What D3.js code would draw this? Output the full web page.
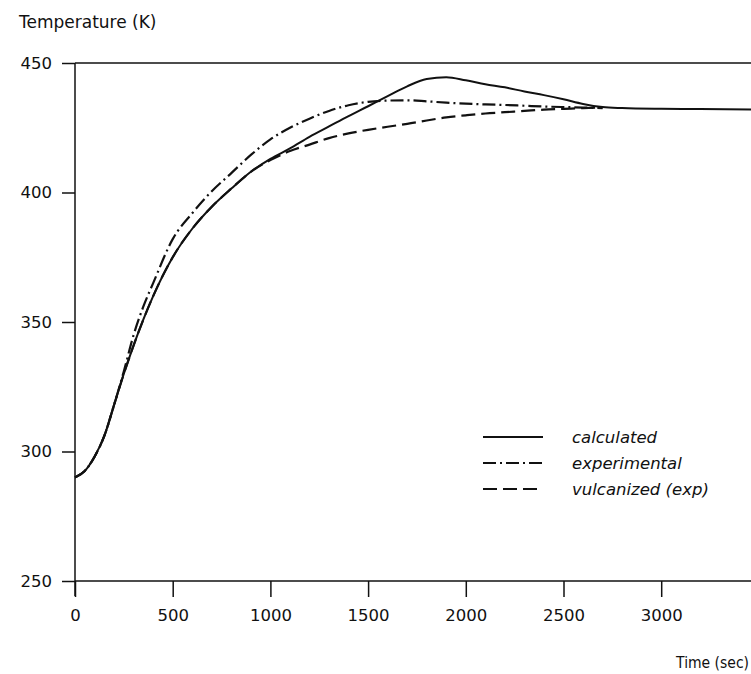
<!DOCTYPE html>
<html>
<head>
<meta charset="utf-8">
<script src="https://cdn.jsdelivr.net/npm/d3@7"></script>
<style>
  body { margin: 0; background: #fff; }
  text { font-family: "DejaVu Sans", sans-serif; fill: #111; }
</style>
</head>
<body>
<div id="chart"></div>
<script>
var svgWidth = 751;
var svgHeight = 674;

// Data
var times = [0, 50, 100, 150, 200, 250, 300, 350, 400, 500, 600, 700, 800, 900, 1000,
  1100, 1200, 1300, 1400, 1500, 1600, 1700, 1800, 1900, 2000, 2100, 2200, 2300, 2400,
  2500, 2600, 2700, 2800, 3000, 3200, 3500];

var calculated = [290, 292.5, 298, 306, 318, 330, 341, 351, 360, 375, 386, 394.5, 401.5, 408, 413,
  417, 421.5, 425.5, 429.5, 433.3, 437.2, 441, 443.8, 444.5, 443.3, 441.8, 440.6, 439, 437.6,
  436, 434.2, 433, 432.6, 432.3, 432.2, 432];

var experimental = [290, 292.5, 298, 306, 318, 331, 345, 356, 365, 382, 392, 400.5, 407.5, 414.5, 420.5,
  425, 428.5, 431.5, 433.7, 435, 435.5, 435.6, 435.2, 434.7, 434.3, 434, 433.8, 433.5, 433.2,
  433, 432.8, 432.6, null, null, null, null];

var vulcanized = [290, 292.5, 298, 306, 318, 330, 341, 351, 360, 375, 386, 394.5, 401.5, 408, 412.5,
  416, 418.5, 421, 422.8, 424.2, 425.4, 426.5, 427.8, 429, 429.8, 430.5, 431, 431.5, 432,
  432.3, 432.6, 432.8, null, null, null, null];

var xTicks = [0, 500, 1000, 1500, 2000, 2500, 3000];
var xTickLabels = ["0", "500", "1000", "1500", "2000", "2500", "3000"];
var yTicks = [250, 300, 350, 400, 450];

var seriesNames = ["calculated", "experimental", "vulcanized (exp)"];
var seriesValues = [calculated, experimental, vulcanized];
var dashes = [null, "13,4,2,4", "14,6"];

var margin = { top: 63, left: 75 };
var plotBottom = 581;

var svg = d3.select("#chart")
  .append("svg")
  .attr("width", svgWidth)
  .attr("height", svgHeight);

var xScale = d3.scaleLinear()
  .domain([0, 3500])
  .range([margin.left, margin.left + 3500 * 97.7 / 500]);

var yScale = d3.scaleLinear()
  .domain([250, 450])
  .range([plotBottom, margin.top]);

// axes
var leftAxis = d3.axisLeft(yScale)
  .tickValues(yTicks)
  .tickSize(13)
  .tickPadding(10)
  .tickFormat(d3.format("d"));

var bottomAxis = d3.axisBottom(xScale)
  .tickValues(xTicks)
  .tickSize(16)
  .tickPadding(12)
  .tickFormat((d, i) => xTickLabels[i]);

var gy = svg.append("g")
  .attr("transform", `translate(${margin.left},0)`)
  .call(leftAxis);

var gx = svg.append("g")
  .attr("transform", `translate(0,${plotBottom})`)
  .call(bottomAxis);

[gx, gy].forEach(function(g) {
  g.select(".domain").remove();
  g.selectAll("line").attr("stroke", "#111").attr("stroke-width", 1.5);
  g.selectAll("text").style("font-size", "16.5px").attr("fill", "#111");
});

// axis lines
svg.append("line")
  .attr("x1", margin.left).attr("x2", margin.left)
  .attr("y1", yScale(450)).attr("y2", plotBottom + 15)
  .attr("stroke", "#111").attr("stroke-width", 1.5);

svg.append("line")
  .attr("x1", margin.left).attr("x2", svgWidth)
  .attr("y1", plotBottom).attr("y2", plotBottom)
  .attr("stroke", "#111").attr("stroke-width", 1.5);

svg.append("line")
  .attr("x1", margin.left).attr("x2", svgWidth)
  .attr("y1", yScale(450)).attr("y2", yScale(450))
  .attr("stroke", "#111").attr("stroke-width", 1.5);

// curves
var line = d3.line()
  .defined(d => d[1] != null)
  .x(d => xScale(d[0]))
  .y(d => yScale(d[1]))
  .curve(d3.curveMonotoneX);

seriesValues.forEach(function(vals, i) {
  var pts = times.map((t, j) => [t, vals[j]]);
  svg.append("path")
    .datum(pts)
    .attr("d", line)
    .attr("fill", "none")
    .attr("stroke", "#111")
    .attr("stroke-width", i == 0 ? 2 : 2.2)
    .attr("stroke-dasharray", dashes[i]);
});

// legend
var legend = svg.append("g");
seriesNames.forEach(function(name, i) {
  var y = 437 + i * 26;
  legend.append("line")
    .attr("x1", 483).attr("x2", 543)
    .attr("y1", y).attr("y2", y)
    .attr("stroke", "#111")
    .attr("stroke-width", 2)
    .attr("stroke-dasharray", dashes[i]);
  legend.append("text")
    .attr("x", 572)
    .attr("y", y)
    .attr("dy", "0.35em")
    .style("font-size", "16.5px")
    .style("font-style", "italic")
    .text(name);
});

// axis titles
svg.append("text")
  .attr("x", 19)
  .attr("y", 22)
  .attr("dy", "0.35em")
  .style("font-size", "17px")
  .text("Temperature (K)");

svg.append("text")
  .attr("x", 749)
  .attr("y", 663)
  .attr("dy", "0.35em")
  .attr("text-anchor", "end")
  .style("font-family", "'DejaVu Sans Condensed', sans-serif")
  .style("font-size", "15.5px")
  .text("Time (sec)");
</script>
</body>
</html>
